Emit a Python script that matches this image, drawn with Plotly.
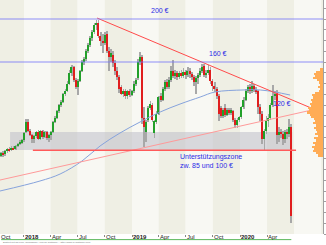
import pandas as pd
import plotly.graph_objects as go

# ---------------- data ----------------
week_start = "2017-10-16"
opens = [73,75,74,77,79,78,80,79,82,84,85,87,95,104,96,92,88,91,95,88,
         96,90,95,89,92,95,104,108,114,120,123,130,133,140,150,155,143,137,142,152,
         160,163,170,176,182,188,194,196,184,180,178,186,170,165,167,159,152,146,137,130,
         133,128,133,129,133,140,145,160,165,108,95,106,117,120,94,104,112,128,125,135,
         141,137,143,152,147,150,146,150,147,151,148,152,149,146,141,145,148,152,156,148,
         150,153,142,138,135,128,117,110,117,111,115,113,114,106,101,106,109,118,125,133,
         137,133,138,134,133,118,112,88,96,105,108,120,128,131,92,95,93,88,95,93,100]
highs = [76,77,78,80,81,82,82,83,85,87,88,95,107,107,98,93,92,96,97,97,
         97,96,96,93,96,105,110,115,121,125,131,135,142,153,157,156,145,144,153,162,
         165,172,178,184,190,196,199.5,199,188,186,188,189,174,172,170,162,155,148,139,135,
         135,134,135,134,142,145,163,169,167,118,106,119,124,122,106,114,128,131,137,143,
         144,146,156,162,153,152,152,153,154,153,155,154,151,148,147,150,154,158,158,153,
         157,155,144,141,137,130,119,117,121,117,117,117,115,108,108,110,119,127,135,139,
         140,142,140,137,134,121,114,98,110,112,122,139,133,134,100,98,96,97,98,107,102]
lows = [72,72,73,75,76,77,78,78,81,83,84,86,94,95,91,85,85,89,87,87,
        88,89,87,86,87,94,103,107,113,118,122,128,132,139,147,141,135,129,141,151,
        157,161,168,174,180,186,190,182,175,168,176,168,152,160,155,148,143,131,129,127,
        126,126,127,128,131,138,143,157,102,81,86,104,115,104,89,102,111,123,124,133,
        135,135,141,145,144,143,144,145,145,144,146,145,143,138,130,140,146,150,146,145,
        148,140,133,132,126,105,108,108,109,110,111,111,104,99,99,104,107,116,124,131,
        130,131,132,130,112,105,84,78,93,100,106,118,125,84,86,89,83,85,88,90,10]
closes = [75,74,77,79,78,80,79,82,84,85,87,94,104,96,92,88,91,95,88,96,
          90,95,89,92,95,104,108,114,120,123,130,133,140,150,155,143,137,142,152,160,
          163,170,176,182,188,194,196,184,180,178,185,170,165,168,159,152,146,135,130,133,
          128,133,129,133,140,143,160,165,108,100,104,117,121,106,105,112,127,125,135,141,
          137,143,152,147,150,146,150,147,151,148,152,149,146,141,145,148,152,155,148,150,
          153,142,138,135,128,112,110,115,111,115,113,115,106,101,106,109,118,125,133,137,
          133,138,134,133,118,112,88,96,105,108,120,128,130,92,95,93,88,95,93,100,17]

# moving average
ma_dates = ["2017-10-12","2018-02-24","2018-05-03","2018-07-16","2018-09-15","2018-11-21",
            "2019-01-28","2019-04-06","2019-06-12","2019-08-19","2019-10-08","2020-01-11",
            "2020-03-09","2020-04-28","2020-06-18"]
ma_values = [40.0,49.3,55.8,67.9,81.9,93.9,104.2,113.5,120.9,127.4,132.1,134.0,134.0,132.1,129.3]

# trend lines (start/end points)
down_dates = ["2018-09-05","2020-10-07"]
down_values = [200.9,112.6]
up_dates = ["2017-10-12","2020-10-07"]
up_values = [50.2,117.7]
support_dates = ["2018-01-31","2020-07-08"]
support_values = [78.0,78.0]

# support zone
zone_dates = ["2017-11-15","2020-06-25"]
zone_values = [78.1,94.9]

# horizontal price marks
level_values = [200,160]
level_labels = ["200 €","160 €","120 €"]
level_label_dates = ["2019-04-06","2019-10-20","2020-05-20"]
level_label_values = [208,168,121]

# volume profile
vp_prices = [153,151,149,147,145,143,141,139,137,135,133,131,129,127,125,123,121,119,117,115,
             113,111,109,107,105,103,101,99,97,95,93,91,89,87,85,83,81,79,77,75,73]
vp_volumes = [3,7,9,8,10,6,4,3,5,3,4,8,11,10,12,11,13,12,15,14,
              16,13,12,9,8,10,7,9,7,6,8,5,9,7,10,8,11,9,10,7,5]

# axis ticks
tick_dates = ["2017-10-01","2018-01-01","2018-04-01","2018-07-01","2018-10-01","2019-01-01",
              "2019-04-01","2019-07-01","2019-10-01","2020-01-01","2020-04-01"]
tick_labels = ["Oct","<b>2018</b>","Apr","Jul","Oct","<b>2019</b>","Apr","Jul","Oct","<b>2020</b>","Apr"]

quarter_starts = ["2017-10-01","2018-01-01","2018-04-01","2018-07-01","2018-10-01","2019-01-01",
                  "2019-04-01","2019-07-01","2019-10-01","2020-01-01","2020-04-01","2020-07-01",
                  "2020-10-01","2021-01-01"]

x_range = ["2017-10-12","2020-10-07"]
y_range = [0,217.7]

# ---------------- figure ----------------
dates = pd.date_range(week_start, periods=len(opens), freq="7D")
DAY = 86400000

GREEN = "#22a02a"
RED = "#e01e1e"
WICK = "#a8a8a8"

fig = go.Figure()

# volume profile
fig.add_trace(go.Bar(y=vp_prices, x=vp_volumes, orientation="h", xaxis="x2", yaxis="y",
                     width=2, marker=dict(color="#ffac55", line=dict(width=0)),
                     hoverinfo="skip", showlegend=False))

# wicks
fig.add_trace(go.Bar(x=dates, y=[h - l for h, l in zip(highs, lows)], base=lows,
                     width=2.6 * DAY, marker=dict(color=WICK, line=dict(width=0)),
                     showlegend=False, hoverinfo="skip"))
# bodies
body_base = [min(o, c) for o, c in zip(opens, closes)]
body_h = [max(abs(c - o), 0.6) for o, c in zip(opens, closes)]
body_col = [GREEN if c >= o else RED for o, c in zip(opens, closes)]
fig.add_trace(go.Bar(x=dates, y=body_h, base=body_base, width=4.8 * DAY,
                     marker=dict(color=body_col, line=dict(width=0)),
                     showlegend=False, hoverinfo="skip"))

# moving average
fig.add_trace(go.Scatter(x=ma_dates, y=ma_values, mode="lines", line=dict(color="#86a3dc", width=1, shape="spline"),
                         showlegend=False, hoverinfo="skip"))
# trend lines
fig.add_trace(go.Scatter(x=up_dates, y=up_values, mode="lines", line=dict(color="#ff9a9a", width=1),
                         showlegend=False, hoverinfo="skip"))
fig.add_trace(go.Scatter(x=down_dates, y=down_values, mode="lines", line=dict(color="#ff4a4a", width=1),
                         showlegend=False, hoverinfo="skip"))
fig.add_trace(go.Scatter(x=support_dates, y=support_values, mode="lines", line=dict(color="#ff5a5a", width=1.5),
                         showlegend=False, hoverinfo="skip"))

shapes = []
for i in range(len(quarter_starts) - 1):
    shapes.append(dict(type="rect", xref="x", yref="paper", x0=quarter_starts[i], x1=quarter_starts[i + 1],
                       y0=0, y1=1, fillcolor="#efefe4" if i % 2 == 0 else "#f8f8f3",
                       line=dict(width=0), layer="below"))
shapes.append(dict(type="rect", xref="x", yref="y", x0=zone_dates[0], x1=zone_dates[1],
                   y0=zone_values[0], y1=zone_values[1], fillcolor="rgba(190,190,200,0.55)",
                   line=dict(width=0), layer="below"))
for v in level_values:
    shapes.append(dict(type="line", xref="paper", yref="y", x0=0, x1=1, y0=v, y1=v,
                       line=dict(color="rgba(120,120,250,0.55)", width=1.5), layer="above"))
# green base line
shapes.append(dict(type="line", xref="x", yref="paper", x0=dates[0], x1=dates[-1], y0=-0.024, y1=-0.024,
                   line=dict(color="#5cb85c", width=1)))

annotations = []
for d, t in zip(tick_dates, tick_labels):
    if pd.Timestamp(d) < pd.Timestamp(x_range[0]):
        annotations.append(dict(xref="paper", x=0, yref="paper", y=0, text=t, showarrow=False,
                                xanchor="left", yanchor="middle", yshift=-3, borderpad=0,
                                font=dict(size=6, color="#222", family="Liberation Sans, Arial")))
    else:
        annotations.append(dict(xref="x", x=d, yref="paper", y=0, text=t, showarrow=False,
                                xanchor="left", yanchor="middle", yshift=-3, borderpad=0,
                                font=dict(size=6, color="#222", family="Liberation Sans, Arial")))
for d, v, t in zip(level_label_dates, level_label_values, level_labels):
    annotations.append(dict(xref="x", x=d, yref="y", y=v, text=t, showarrow=False,
                            xanchor="center", yanchor="middle",
                            font=dict(size=7, color="#2b2be6", family="Liberation Sans, Arial")))
annotations.append(dict(xref="x", x="2019-06-05", yref="y", y=77, text="Unterstützungszone<br>zw. 85 und 100 €",
                        showarrow=False, xanchor="left", yanchor="top", align="left",
                        font=dict(size=7, color="#2b2be6", family="Liberation Sans, Arial")))
annotations.append(dict(xref="paper", x=0.005, yref="paper", y=-0.036, yanchor="middle", xanchor="left",
                        borderpad=0,
                        text="Erstellt mit Tai-Pan, Technische Analyse Software – http://www.lp-software.com",
                        showarrow=False, font=dict(size=2.5, color="#777", family="Liberation Sans, Arial")))

fig.update_layout(
    width=326, height=245,
    margin=dict(l=0, r=3, t=0, b=11),
    paper_bgcolor="white", plot_bgcolor="#f8f8f3",
    barmode="overlay", bargap=0,
    showlegend=False,
    shapes=shapes, annotations=annotations,
    xaxis=dict(type="date", range=x_range, showgrid=False, zeroline=False, showline=False,
               tickvals=tick_dates, ticks="outside", ticklen=2, tickcolor="#888",
               showticklabels=False, fixedrange=True),
    xaxis2=dict(overlaying="x", range=[320, 0], visible=False, anchor="y"),
    yaxis=dict(side="right", range=y_range, showgrid=False, zeroline=False,
               showline=True, linecolor="#a0a0a0", linewidth=1, ticks="outside", ticklen=3,
               tickcolor="#a0a0a0", dtick=10, showticklabels=False),
)

fig.write_html("out.html")
